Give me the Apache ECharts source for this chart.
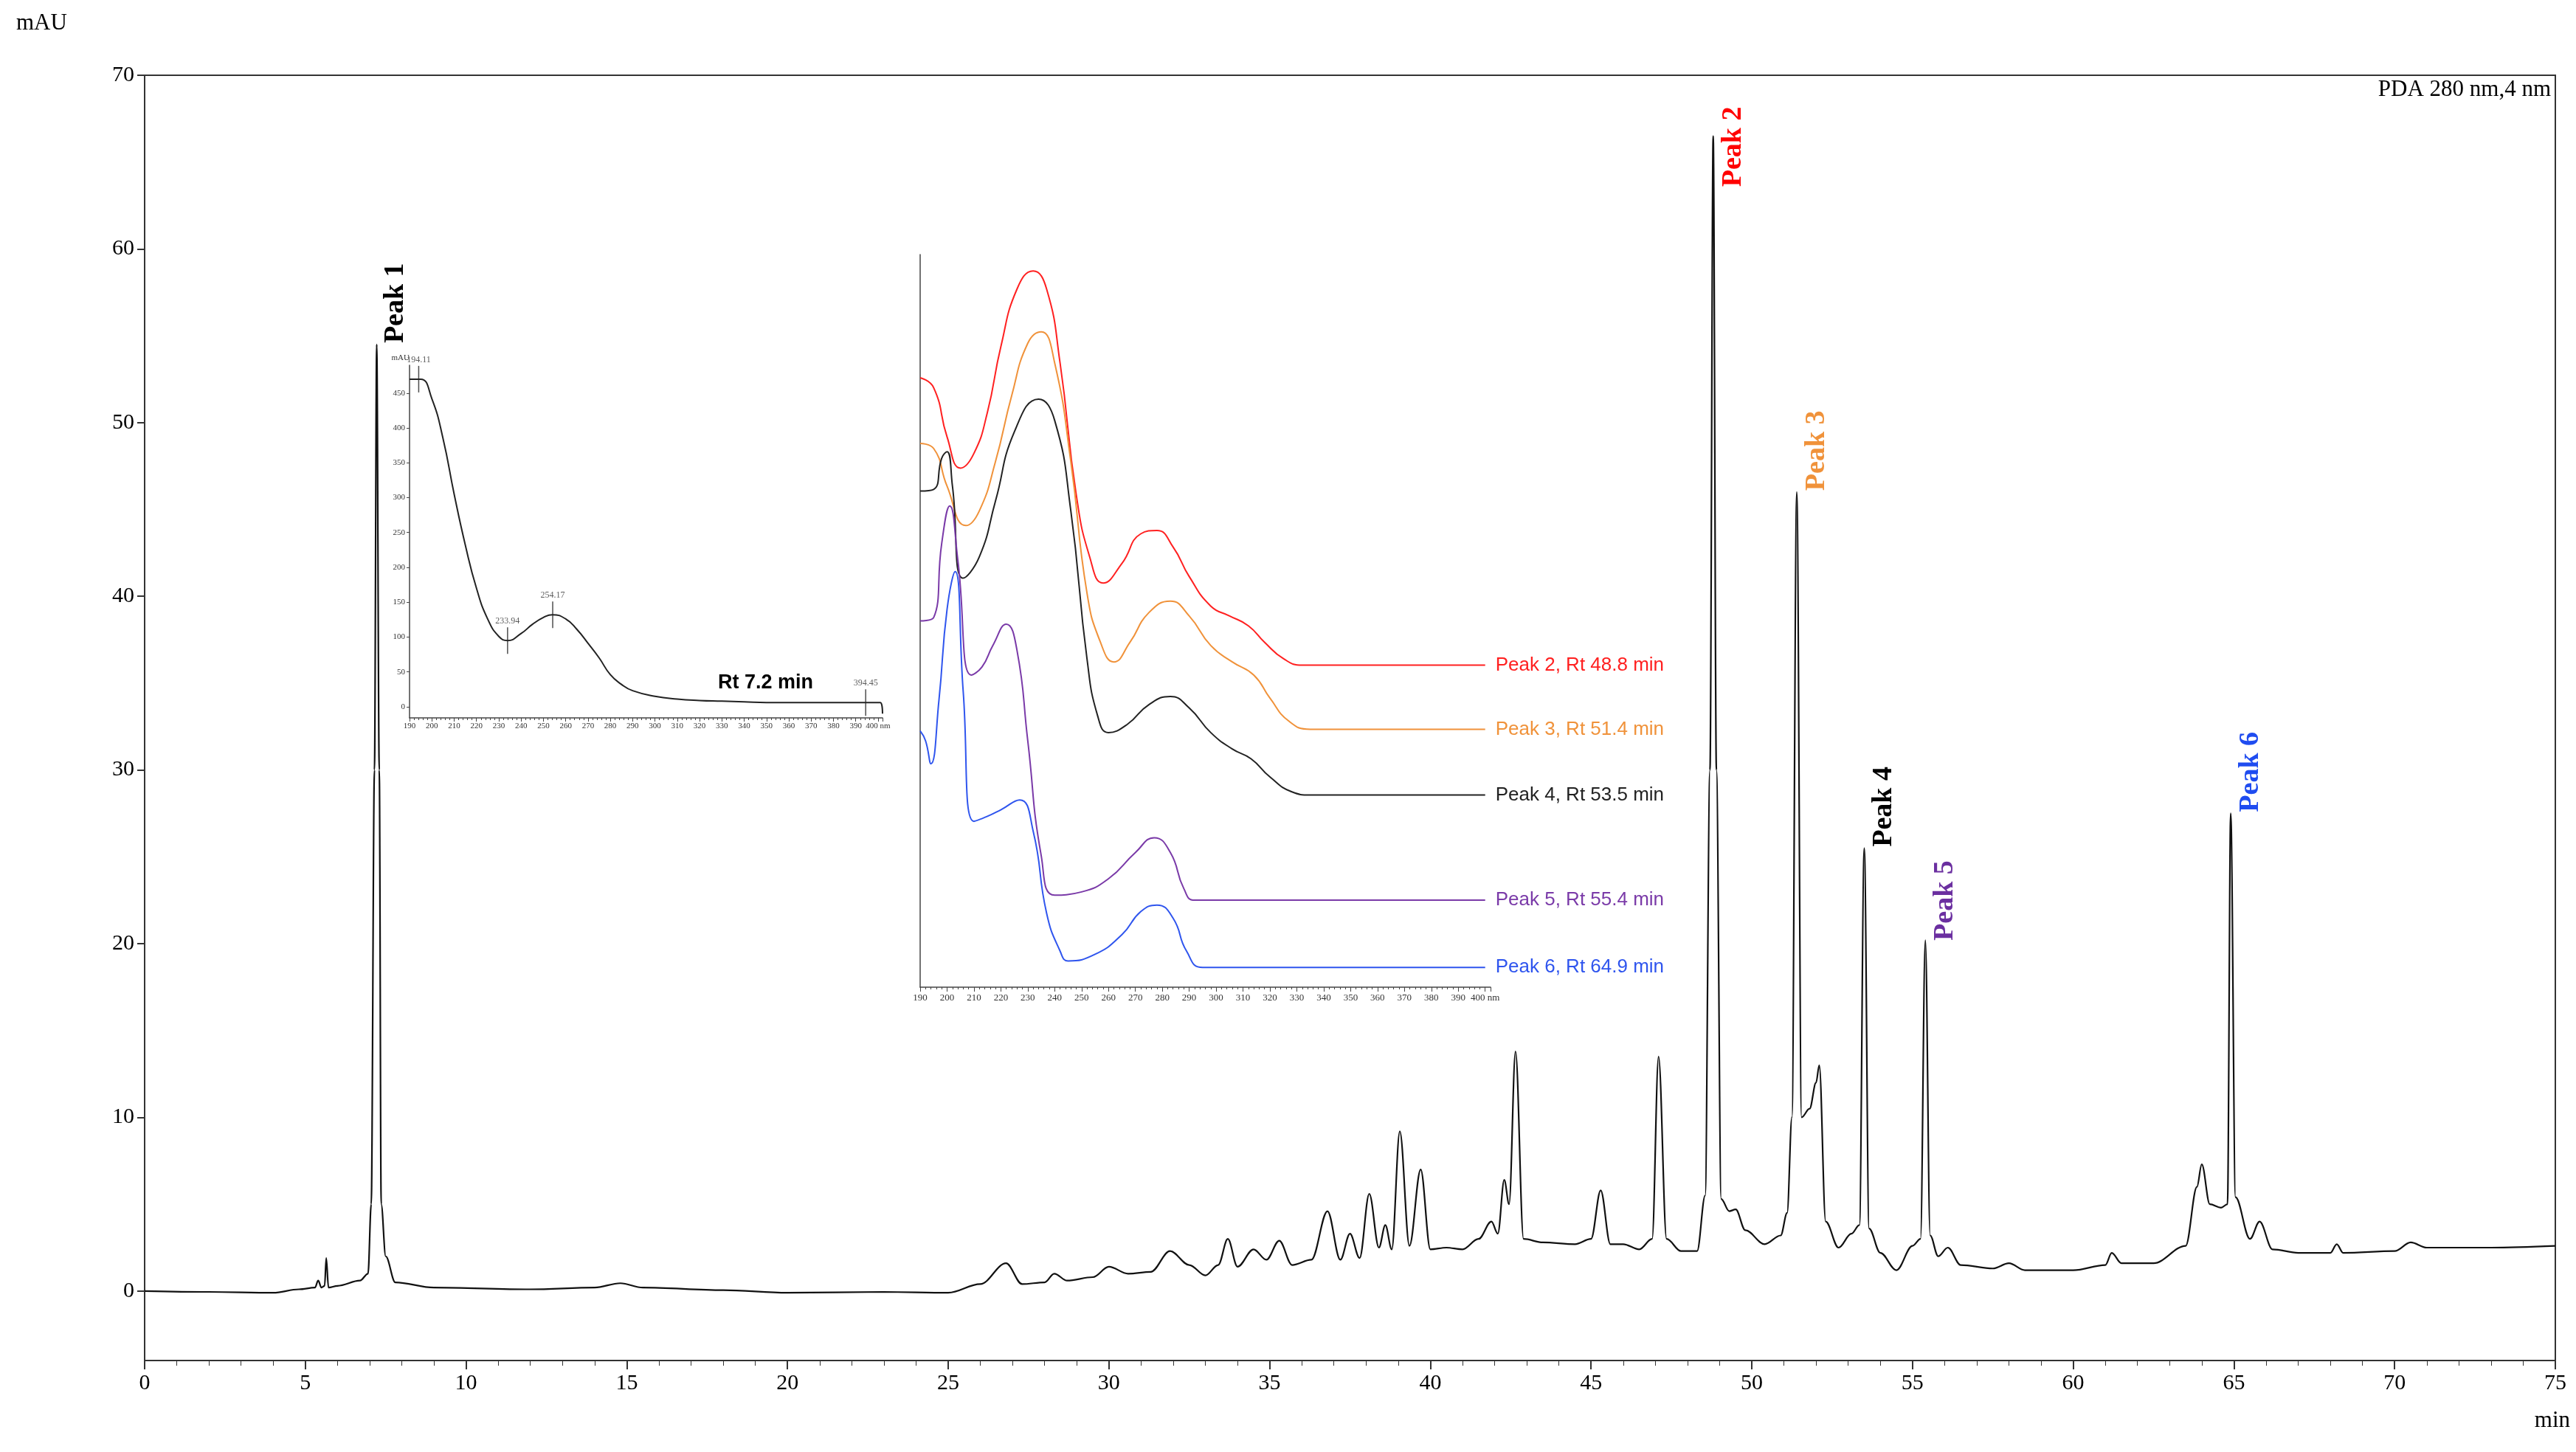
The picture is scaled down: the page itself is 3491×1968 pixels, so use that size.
<!DOCTYPE html>
<html><head><meta charset="utf-8">
<script src="https://cdn.jsdelivr.net/npm/echarts@6/dist/echarts.min.js"></script>
<style>html,body{margin:0;background:#fff}#c{width:3491px;height:1968px}</style>
</head><body><div id="c"></div>
<script>
// main chromatogram, [min, mAU]
var chromData = [[0,0],[2,-0.05],[4,-0.1],[4.8,0.1],[5.3,0.2],[5.4,0.6],[5.5,0.2],[5.6,0.3],[5.65,1.9],[5.72,0.2],[6,0.3],[6.7,0.6],[6.95,1],[7.05,5],[7.15,30],[7.22,54.5],[7.3,30],[7.36,5],[7.5,2],[7.8,0.5],[9,0.2],[12,0.1],[14,0.2],[14.8,0.45],[15.5,0.2],[18,0.05],[20,-0.1],[23,-0.05],[25,-0.1],[26,0.4],[26.8,1.6],[27.3,0.4],[28,0.5],[28.3,1],[28.7,0.6],[29.5,0.8],[30,1.4],[30.6,1],[31.3,1.1],[31.9,2.3],[32.5,1.5],[33,0.9],[33.4,1.5],[33.7,3],[34,1.4],[34.5,2.4],[34.9,1.8],[35.3,2.9],[35.7,1.5],[36.3,1.8],[36.8,4.6],[37.2,1.8],[37.5,3.3],[37.8,1.9],[38.1,5.6],[38.4,2.5],[38.6,3.8],[38.8,2.4],[39.05,9.2],[39.35,2.6],[39.7,7],[40,2.4],[40.5,2.5],[41,2.4],[41.5,3],[41.9,4],[42.1,3.3],[42.3,6.4],[42.45,5],[42.65,13.8],[42.9,3],[43.5,2.8],[44.5,2.7],[45,3],[45.3,5.8],[45.6,2.7],[46,2.7],[46.5,2.4],[46.9,3],[47.1,13.5],[47.35,3],[47.8,2.3],[48.3,2.3],[48.55,5.5],[48.7,30],[48.8,66.5],[48.9,30],[49.05,5.3],[49.3,4.6],[49.5,4.7],[49.8,3.5],[50.4,2.7],[50.9,3.2],[51.1,4.5],[51.25,10],[51.4,46],[51.55,10],[51.8,10.5],[52,12],[52.1,13],[52.3,4],[52.7,2.5],[53.1,3.3],[53.35,3.8],[53.5,25.5],[53.65,3.6],[54,2.2],[54.5,1.2],[55,2.6],[55.25,3],[55.4,20.2],[55.55,3.2],[55.8,2],[56.1,2.5],[56.5,1.5],[57.5,1.3],[58,1.6],[58.5,1.2],[60,1.2],[61,1.5],[61.2,2.2],[61.5,1.6],[62.5,1.6],[63.5,2.6],[63.85,6],[64,7.3],[64.25,5],[64.6,4.8],[64.8,5],[64.9,27.5],[65.05,5.4],[65.5,3],[65.8,4],[66.2,2.4],[67,2.2],[68,2.2],[68.2,2.7],[68.4,2.2],[70,2.3],[70.5,2.8],[71,2.5],[73,2.5],[75,2.6]];
var yTicks = [0,10,20,30,40,50,60,70];
var peakLabels = ['Peak 1','Peak 2','Peak 3','Peak 4','Peak 5','Peak 6'];
var peakTimes = [7.2,48.8,51.4,53.5,55.4,64.9];
var labelBase = [55,64,46.5,26,20.6,28];
var peakColors = ['#000000','#ff0000','#f0923a','#000000','#6b2fa0','#1f4cf0'];
// inset 1 spectrum, Rt 7.2 min
var spec1 = [[190,470],[195,470],[200,442],[205,385],[210,305],[215,232],[220,170],[225,126],[230,101],[234,95],[240,105],[245,118],[250,128],[254,132],[260,126],[265,111],[270,91],[275,70],[280,46],[285,32],[290,23],[300,15],[310,11],[320,9],[330,8],[340,7],[350,6],[395,6],[401,6],[402,-10]];
var spec1Ticks = [0,50,100,150,200,250,300,350,400,450];
var spec1Marks = [[194.11,470],[233.94,95],[254.17,132],[394.45,6]];
// inset 2 spectra, stacked (arbitrary offsets)
var specNames = ['Peak 2, Rt 48.8 min','Peak 3, Rt 51.4 min','Peak 4, Rt 53.5 min','Peak 5, Rt 55.4 min','Peak 6, Rt 64.9 min'];
var specColors = ['#ff2020','#f0923a','#222222','#7a3aa8','#2f55ee'];
var specRed = [[190,371],[195,365],[200,335],[205,316],[210,325],[215,350],[220,390],[226,425],[232,436],[237,425],[242,380],[248,300],[253,262],[258,246],[265,258],[272,276],[278,278],[284,268],[290,250],[298,232],[305,226],[312,220],[318,210],[325,200],[332,196],[400,196]];
var specOrange = [[190,331],[195,328],[200,305],[207,281],[212,290],[218,320],[224,360],[230,392],[235,399],[240,380],[246,320],[252,240],[257,210],[262,198],[268,210],[275,228],[283,235],[290,226],[298,208],[306,198],[314,190],[320,176],[327,162],[335,157],[400,157]];
var specBlack = [[190,302],[195,303],[198,322],[200,326],[202,305],[206,249],[212,262],[218,296],[225,338],[234,358],[240,345],[246,290],[252,200],[256,165],[260,155],[267,160],[275,172],[283,177],[290,170],[298,155],[306,145],[313,139],[320,128],[328,119],[335,117],[400,117]];
var specPurple = [[190,223],[195,225],[198,270],[201,293],[204,260],[209,190],[213,195],[217,208],[222,221],[226,205],[230,150],[235,80],[240,56],[250,58],[260,66],[270,82],[277,91],[283,82],[288,60],[292,53],[400,53]];
var specBlue = [[190,156],[192,150],[194,136],[197,175],[200,230],[203,253],[206,180],[210,101],[215,104],[220,108],[227,114],[232,95],[237,45],[242,22],[245,16],[255,20],[265,32],[272,46],[278,50],[284,42],[289,22],[295,12],[400,12]];
var specSets = [specRed, specOrange, specBlack, specPurple, specBlue];

var chart = echarts.init(document.getElementById('c'));
var serif = 'Liberation Serif';
var series = [{
  type: 'line', xAxisIndex: 0, yAxisIndex: 0, data: chromData, showSymbol: false,
  smooth: 0.35, smoothMonotone: 'x',
  lineStyle: {color: '#111', width: 2.2}, z: 5
}, {
  type: 'line', xAxisIndex: 1, yAxisIndex: 1, data: spec1, showSymbol: false, smooth: 0.5,
  lineStyle: {color: '#222', width: 2}
}, {
  type: 'scatter', xAxisIndex: 1, yAxisIndex: 1, data: spec1Marks, symbol: 'rect', symbolSize: [1.5, 36],
  itemStyle: {color: '#222'},
  label: {show: true, position: 'top', distance: 2, fontFamily: serif, fontSize: 12, color: '#333',
    formatter: function(p){return p.value[0].toFixed(2);}}
}];
specSets.forEach(function(d, i){
  series.push({type: 'line', xAxisIndex: 2, yAxisIndex: 2, data: d, showSymbol: false, smooth: 0.5,
    lineStyle: {color: specColors[i], width: 2},
    endLabel: {show: true, formatter: specNames[i], color: specColors[i], fontFamily: 'Liberation Sans', fontSize: 26, distance: 14}});
});
var nmFmt = function(v){return v===400?'400 nm':(v>400?'':v);};
chart.setOption({
  animation: false,
  grid: [
    {left: 196, right: 28, top: 102, bottom: 124, show: true, borderColor: '#333', borderWidth: 2},
    {left: 555, width: 641, top: 495, height: 478},
    {left: 1247, width: 773, top: 345, height: 993}
  ],
  xAxis: [
    {gridIndex: 0, type: 'value', min: 0, max: 75, interval: 5,
      axisLine: {onZero: false, lineStyle: {color: '#333', width: 2}}, axisTick: {length: 12, lineStyle: {color: '#333', width: 2}},
      minorTick: {show: true, splitNumber: 5, length: 7, lineStyle: {color: '#333'}},
      splitLine: {show: false}, axisLabel: {margin: 16, fontFamily: serif, fontSize: 30, color: '#000'}},
    {gridIndex: 1, type: 'value', min: 190, max: 402, interval: 10,
      axisLine: {onZero: false, lineStyle: {color: '#444', width: 1.5}}, axisTick: {length: 5},
      minorTick: {show: true, splitNumber: 5, length: 3}, splitLine: {show: false},
      axisLabel: {fontFamily: serif, fontSize: 11, color: '#333', margin: 6, formatter: nmFmt}},
    {gridIndex: 2, type: 'value', min: 190, max: 402, interval: 10,
      axisLine: {onZero: false, lineStyle: {color: '#444', width: 1.5}}, axisTick: {length: 6},
      minorTick: {show: true, splitNumber: 5, length: 3}, splitLine: {show: false},
      axisLabel: {fontFamily: serif, fontSize: 13, color: '#333', margin: 8, formatter: nmFmt}}
  ],
  yAxis: [
    {gridIndex: 0, type: 'value', min: -4, max: 70,
      axisLabel: {customValues: yTicks, margin: 14, fontFamily: serif, fontSize: 30, color: '#000'},
      axisLine: {show: true, lineStyle: {color: '#333', width: 2}},
      axisTick: {show: true, customValues: yTicks, length: 10, lineStyle: {color: '#333', width: 2}},
      splitLine: {show: false}},
    {gridIndex: 1, type: 'value', min: -16, max: 490,
      axisLabel: {customValues: spec1Ticks, fontFamily: serif, fontSize: 11, color: '#333', margin: 6},
      axisLine: {show: true, lineStyle: {color: '#444', width: 1.5}},
      axisTick: {show: true, customValues: spec1Ticks, length: 4}, splitLine: {show: false},
      name: 'mAU', nameLocation: 'end', nameGap: 4, nameTextStyle: {fontFamily: serif, fontSize: 11, color: '#333', align: 'right'}},
    {gridIndex: 2, type: 'value', min: 0, max: 446,
      axisLabel: {show: false}, axisLine: {show: true, lineStyle: {color: '#444', width: 1.5}},
      axisTick: {show: false}, splitLine: {show: false}}
  ],
  series: series
});
// text and rotated peak labels at each peak apex
var g = [
  {type: 'text', left: 22, top: 16, style: {text: 'mAU', font: '31px "Liberation Serif"', fill: '#000'}},
  {type: 'text', right: 8, top: 1910, style: {text: 'min', font: '31px "Liberation Serif"', fill: '#000'}},
  {type: 'text', right: 34, top: 106, style: {text: 'PDA 280 nm,4 nm', font: '31px "Liberation Serif"', fill: '#000'}},
  {type: 'text', left: 973, top: 912, style: {text: 'Rt 7.2 min', font: 'bold 27px "Liberation Sans"', fill: '#000'}}
];
peakLabels.forEach(function(t, i){
  var p = chart.convertToPixel({xAxisIndex: 0, yAxisIndex: 0}, [peakTimes[i], labelBase[i]]);
  g.push({type: 'text', x: p[0] + 8, y: p[1] + 10, rotation: Math.PI / 2,
    style: {text: t, font: 'bold 38px "Liberation Serif"', fill: peakColors[i], align: 'left', verticalAlign: 'top'}});
});
chart.setOption({graphic: g});
</script></body></html>
